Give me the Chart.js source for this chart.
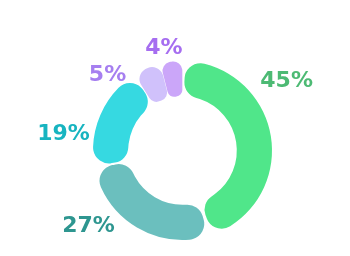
<!DOCTYPE html>
<html>
<head>
<meta charset="utf-8">
<script src="https://cdn.jsdelivr.net/npm/chart.js@4.4.0/dist/chart.umd.min.js"></script>
<style>
html,body{margin:0;padding:0;background:#fff;}
#wrap{width:350px;height:256px;position:relative;}
</style>
</head>
<body>
<div id="wrap"><canvas id="c" width="350" height="256"></canvas></div>
<script>
const categories = ['A', 'B', 'C', 'D', 'E'];
const values = [45, 27, 19, 5, 4];
const labelTexts = ['45%', '27%', '19%', '5%', '4%'];

const sliceColors = ['#50e68a', '#6bbfbe', '#36d9e1', '#d0c1fb', '#cba6f9'];
const labelColors = ['#4dba74', '#2e9690', '#17b4c0', '#a67ff0', '#a66ef0'];

const labelLayout = {
  angleShift: [-25, 21, -15, -21, -3],
  radialNudge: [5, 0, -1, -6, -1],
  offset: 6
};

const outsideLabels = {
  id: 'outsideLabels',
  afterDatasetsDraw(chart) {
    const ctx = chart.ctx;
    const meta = chart.getDatasetMeta(0);
    ctx.save();
    ctx.font = 'bold 22px "DejaVu Sans"';
    ctx.textAlign = 'center';
    ctx.textBaseline = 'middle';
    meta.data.forEach((arc, i) => {
      const p = arc.getProps(['x', 'y', 'startAngle', 'endAngle', 'outerRadius']);
      const a = (p.startAngle + p.endAngle) / 2 + labelLayout.angleShift[i] * Math.PI / 180;
      const w = ctx.measureText(labelTexts[i]).width;
      const h = 17;
      const proj = Math.abs(Math.cos(a)) * w / 2 + Math.abs(Math.sin(a)) * h / 2;
      const r = p.outerRadius + labelLayout.offset + labelLayout.radialNudge[i] + proj;
      ctx.fillStyle = labelColors[i];
      ctx.fillText(labelTexts[i], p.x + Math.cos(a) * r, p.y + Math.sin(a) * r + 1);
    });
    ctx.restore();
  }
};

new Chart(document.getElementById('c'), {
  type: 'doughnut',
  data: {
    labels: categories,
    datasets: [{
      data: values,
      backgroundColor: sliceColors,
      borderWidth: 0,
      borderRadius: 16,
      spacing: 3
    }]
  },
  options: {
    responsive: false,
    animation: false,
    cutout: '60%',
    layout: { padding: { left: 15, right: 0, top: 61, bottom: 16 } },
    plugins: { legend: { display: false }, tooltip: { enabled: false } }
  },
  plugins: [outsideLabels]
});
</script>
</body>
</html>
